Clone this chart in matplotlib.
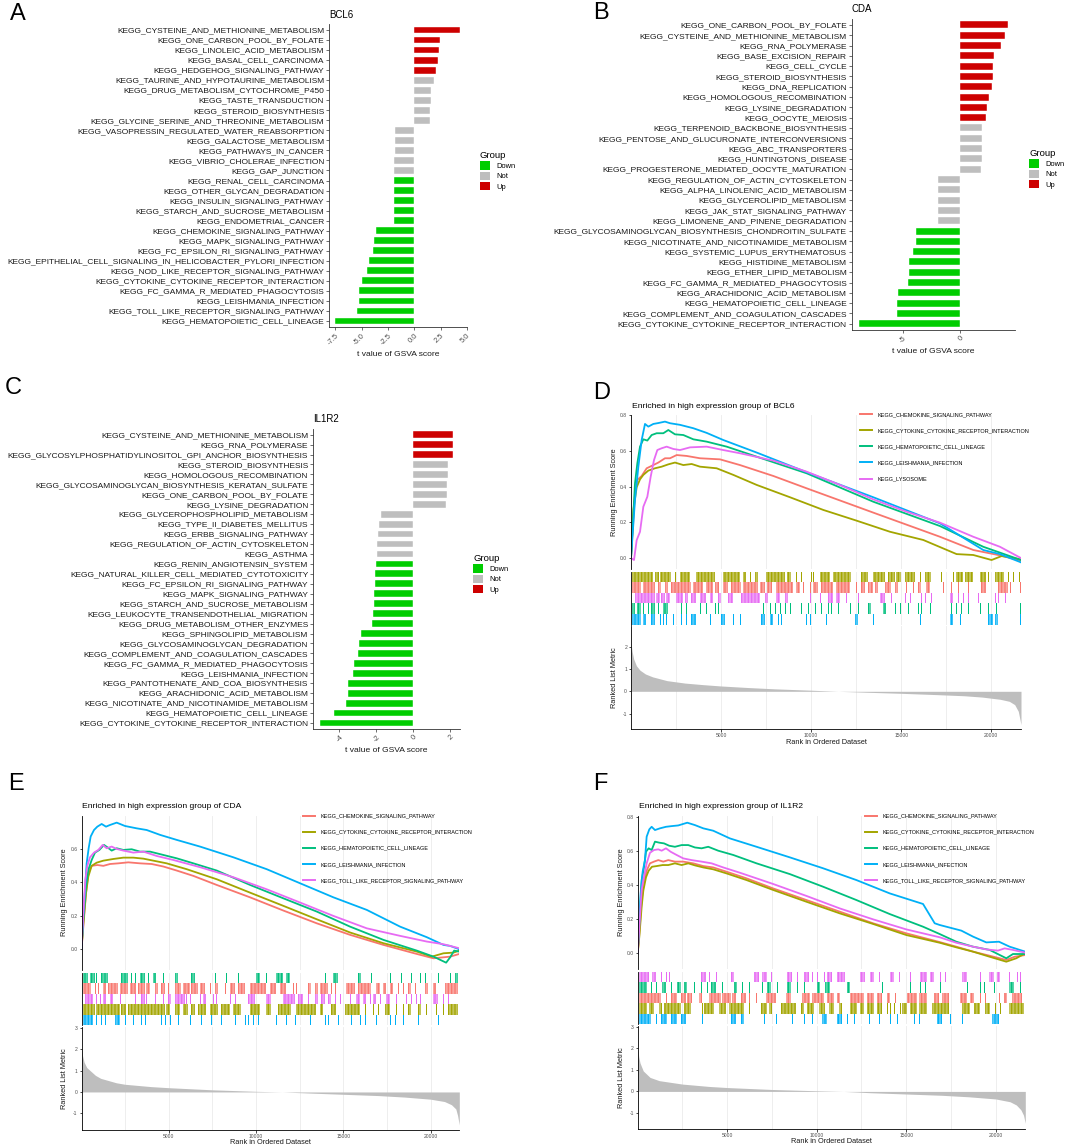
import numpy as np
import matplotlib
matplotlib.use("Agg")
import matplotlib.pyplot as plt
from matplotlib.patches import Patch
from matplotlib.lines import Line2D
from matplotlib.colors import to_rgba

plt.rcParams['font.family'] = ['Liberation Sans', 'DejaVu Sans']
plt.rcParams['hatch.linewidth'] = 0.9

# ---------------- GSVA bar data ----------------
a_names = ["KEGG_CYSTEINE_AND_METHIONINE_METABOLISM", "KEGG_ONE_CARBON_POOL_BY_FOLATE",
           "KEGG_LINOLEIC_ACID_METABOLISM", "KEGG_BASAL_CELL_CARCINOMA",
           "KEGG_HEDGEHOG_SIGNALING_PATHWAY", "KEGG_TAURINE_AND_HYPOTAURINE_METABOLISM",
           "KEGG_DRUG_METABOLISM_CYTOCHROME_P450", "KEGG_TASTE_TRANSDUCTION",
           "KEGG_STEROID_BIOSYNTHESIS", "KEGG_GLYCINE_SERINE_AND_THREONINE_METABOLISM",
           "KEGG_VASOPRESSIN_REGULATED_WATER_REABSORPTION", "KEGG_GALACTOSE_METABOLISM",
           "KEGG_PATHWAYS_IN_CANCER", "KEGG_VIBRIO_CHOLERAE_INFECTION", "KEGG_GAP_JUNCTION",
           "KEGG_RENAL_CELL_CARCINOMA", "KEGG_OTHER_GLYCAN_DEGRADATION",
           "KEGG_INSULIN_SIGNALING_PATHWAY", "KEGG_STARCH_AND_SUCROSE_METABOLISM",
           "KEGG_ENDOMETRIAL_CANCER", "KEGG_CHEMOKINE_SIGNALING_PATHWAY",
           "KEGG_MAPK_SIGNALING_PATHWAY", "KEGG_FC_EPSILON_RI_SIGNALING_PATHWAY",
           "KEGG_EPITHELIAL_CELL_SIGNALING_IN_HELICOBACTER_PYLORI_INFECTION",
           "KEGG_NOD_LIKE_RECEPTOR_SIGNALING_PATHWAY", "KEGG_CYTOKINE_CYTOKINE_RECEPTOR_INTERACTION",
           "KEGG_FC_GAMMA_R_MEDIATED_PHAGOCYTOSIS", "KEGG_LEISHMANIA_INFECTION",
           "KEGG_TOLL_LIKE_RECEPTOR_SIGNALING_PATHWAY", "KEGG_HEMATOPOIETIC_CELL_LINEAGE"]
a_vals = [4.36, 2.40, 2.31, 2.21, 2.02, 1.89, 1.57, 1.54, 1.47, 1.47,
          -1.86, -1.86, -1.86, -1.89, -1.89, -1.96, -1.96, -1.96, -1.96, -1.96,
          -3.62, -3.85, -3.88, -4.33, -4.52, -4.94, -5.22, -5.29, -5.42, -7.50]
a_groups = ["Up"] * 5 + ["Not"] * 10 + ["Down"] * 15
a_ticks = [-7.5, -5.0, -2.5, 0.0, 2.5, 5.0]

b_names = ["KEGG_ONE_CARBON_POOL_BY_FOLATE", "KEGG_CYSTEINE_AND_METHIONINE_METABOLISM",
           "KEGG_RNA_POLYMERASE", "KEGG_BASE_EXCISION_REPAIR", "KEGG_CELL_CYCLE",
           "KEGG_STEROID_BIOSYNTHESIS", "KEGG_DNA_REPLICATION", "KEGG_HOMOLOGOUS_RECOMBINATION",
           "KEGG_LYSINE_DEGRADATION", "KEGG_OOCYTE_MEIOSIS", "KEGG_TERPENOID_BACKBONE_BIOSYNTHESIS",
           "KEGG_PENTOSE_AND_GLUCURONATE_INTERCONVERSIONS", "KEGG_ABC_TRANSPORTERS",
           "KEGG_HUNTINGTONS_DISEASE", "KEGG_PROGESTERONE_MEDIATED_OOCYTE_MATURATION",
           "KEGG_REGULATION_OF_ACTIN_CYTOSKELETON", "KEGG_ALPHA_LINOLENIC_ACID_METABOLISM",
           "KEGG_GLYCEROLIPID_METABOLISM", "KEGG_JAK_STAT_SIGNALING_PATHWAY",
           "KEGG_LIMONENE_AND_PINENE_DEGRADATION",
           "KEGG_GLYCOSAMINOGLYCAN_BIOSYNTHESIS_CHONDROITIN_SULFATE",
           "KEGG_NICOTINATE_AND_NICOTINAMIDE_METABOLISM", "KEGG_SYSTEMIC_LUPUS_ERYTHEMATOSUS",
           "KEGG_HISTIDINE_METABOLISM", "KEGG_ETHER_LIPID_METABOLISM",
           "KEGG_FC_GAMMA_R_MEDIATED_PHAGOCYTOSIS", "KEGG_ARACHIDONIC_ACID_METABOLISM",
           "KEGG_HEMATOPOIETIC_CELL_LINEAGE", "KEGG_COMPLEMENT_AND_COAGULATION_CASCADES",
           "KEGG_CYTOKINE_CYTOKINE_RECEPTOR_INTERACTION"]
b_vals = [4.10, 3.84, 3.50, 2.89, 2.86, 2.80, 2.75, 2.51, 2.31, 2.23,
          1.91, 1.91, 1.88, 1.85, 1.82, -1.91, -1.91, -1.97, -1.97, -1.97,
          -3.82, -3.87, -4.05, -4.42, -4.48, -4.51, -5.35, -5.46, -5.49, -8.76]
b_groups = ["Up"] * 10 + ["Not"] * 10 + ["Down"] * 10
b_ticks = [-5, 0]

c_names = ["KEGG_CYSTEINE_AND_METHIONINE_METABOLISM", "KEGG_RNA_POLYMERASE",
           "KEGG_GLYCOSYLPHOSPHATIDYLINOSITOL_GPI_ANCHOR_BIOSYNTHESIS", "KEGG_STEROID_BIOSYNTHESIS",
           "KEGG_HOMOLOGOUS_RECOMBINATION", "KEGG_GLYCOSAMINOGLYCAN_BIOSYNTHESIS_KERATAN_SULFATE",
           "KEGG_ONE_CARBON_POOL_BY_FOLATE", "KEGG_LYSINE_DEGRADATION",
           "KEGG_GLYCEROPHOSPHOLIPID_METABOLISM", "KEGG_TYPE_II_DIABETES_MELLITUS",
           "KEGG_ERBB_SIGNALING_PATHWAY", "KEGG_REGULATION_OF_ACTIN_CYTOSKELETON", "KEGG_ASTHMA",
           "KEGG_RENIN_ANGIOTENSIN_SYSTEM", "KEGG_NATURAL_KILLER_CELL_MEDIATED_CYTOTOXICITY",
           "KEGG_FC_EPSILON_RI_SIGNALING_PATHWAY", "KEGG_MAPK_SIGNALING_PATHWAY",
           "KEGG_STARCH_AND_SUCROSE_METABOLISM", "KEGG_LEUKOCYTE_TRANSENDOTHELIAL_MIGRATION",
           "KEGG_DRUG_METABOLISM_OTHER_ENZYMES", "KEGG_SPHINGOLIPID_METABOLISM",
           "KEGG_GLYCOSAMINOGLYCAN_DEGRADATION", "KEGG_COMPLEMENT_AND_COAGULATION_CASCADES",
           "KEGG_FC_GAMMA_R_MEDIATED_PHAGOCYTOSIS", "KEGG_LEISHMANIA_INFECTION",
           "KEGG_PANTOTHENATE_AND_COA_BIOSYNTHESIS", "KEGG_ARACHIDONIC_ACID_METABOLISM",
           "KEGG_NICOTINATE_AND_NICOTINAMIDE_METABOLISM", "KEGG_HEMATOPOIETIC_CELL_LINEAGE",
           "KEGG_CYTOKINE_CYTOKINE_RECEPTOR_INTERACTION"]
c_vals = [2.16, 2.16, 2.13, 1.87, 1.85, 1.84, 1.84, 1.76,
          -1.75, -1.87, -1.89, -1.95, -1.96,
          -2.00, -2.07, -2.07, -2.15, -2.15, -2.18, -2.22, -2.84, -2.93, -3.02,
          -3.24, -3.29, -3.53, -3.53, -3.67, -4.31, -5.07]
c_groups = ["Up"] * 3 + ["Not"] * 10 + ["Down"] * 17
c_ticks = [-4, -2, 0, 2]

group_levels = ["Down", "Not", "Up"]

# ---------------- GSEA data ----------------
n_genes = 21650
gsea_x_ticks = [5000, 10000, 15000, 20000]

# running enrichment score, (rank, score)
d_chemokine = [(0, 0), (130, 0.213), (222, 0.362), (352, 0.437), (592, 0.459), (870, 0.502),
               (1240, 0.52), (1517, 0.534), (1887, 0.558), (2165, 0.558), (2535, 0.576),
               (3090, 0.571), (3830, 0.558), (4940, 0.552), (6050, 0.52), (7900, 0.459),
               (9750, 0.39), (13450, 0.254), (17150, 0.119), (19000, 0.045), (20480, 0.015),
               (21645, -0.015)]
d_cytokine = [(0, 0), (130, 0.269), (315, 0.396), (500, 0.44), (685, 0.465), (962, 0.489),
              (1332, 0.502), (1702, 0.511), (2072, 0.524), (2442, 0.534), (2905, 0.52),
              (3367, 0.526), (3830, 0.511), (4755, 0.502), (5680, 0.465), (6975, 0.409),
              (8825, 0.34), (10675, 0.269), (12525, 0.209), (14375, 0.147), (16225, 0.101),
              (18075, 0.022), (19000, 0.017), (20017, -0.011), (20572, 0.011), (21645, -0.007)]
d_hemato = [(0, 0), (222, 0.418), (352, 0.53), (500, 0.623), (685, 0.664), (907, 0.657),
            (1147, 0.688), (1425, 0.698), (1795, 0.698), (2072, 0.716), (2442, 0.692),
            (2905, 0.688), (3460, 0.664), (4200, 0.651), (5310, 0.623), (6975, 0.567),
            (9750, 0.474), (13450, 0.315), (17150, 0.179), (19555, 0.063), (21645, -0.011)]
d_leish = [(0, 0), (222, 0.325), (407, 0.51), (592, 0.66), (777, 0.75), (962, 0.735),
           (1240, 0.75), (1517, 0.755), (1887, 0.763), (2165, 0.754), (2720, 0.745),
           (3460, 0.726), (4200, 0.70), (5125, 0.66), (6975, 0.59), (9750, 0.48),
           (13450, 0.34), (17150, 0.194), (19555, 0.045), (20480, 0.022), (21645, -0.024)]
d_lysosome = [(0, 0), (167, -0.011), (315, 0.1), (500, 0.147), (685, 0.287), (907, 0.343),
              (1092, 0.455), (1277, 0.548), (1462, 0.604), (1702, 0.614), (1980, 0.623),
              (2350, 0.61), (2720, 0.604), (3275, 0.619), (4200, 0.623), (5125, 0.604),
              (6050, 0.586), (7900, 0.545), (9750, 0.483), (11600, 0.409), (13450, 0.328),
              (15300, 0.259), (17150, 0.198), (19000, 0.119), (20480, 0.063), (21645, 0)]

e_chemokine = [(0, 0), (105, 0.135), (257, 0.334), (391, 0.458), (582, 0.498), (907, 0.503),
               (1251, 0.498), (1633, 0.509), (2111, 0.513), (2684, 0.519), (3353, 0.513),
               (4022, 0.509), (4691, 0.494), (5455, 0.47), (6411, 0.438), (7749, 0.384),
               (9660, 0.31), (11571, 0.231), (13482, 0.155), (15393, 0.086), (17304, 0.026),
               (19215, -0.028), (20170, -0.054), (21126, -0.044), (21650, -0.028)]
e_cytokine = [(0, 0), (105, 0.155), (257, 0.334), (391, 0.434), (582, 0.498), (869, 0.517),
              (1251, 0.529), (1824, 0.539), (2398, 0.547), (2971, 0.547), (3544, 0.541),
              (4118, 0.529), (4882, 0.513), (6029, 0.478), (7749, 0.418), (9660, 0.338),
              (11571, 0.259), (13482, 0.179), (15393, 0.1), (17304, 0.036), (19215, -0.014),
              (20075, -0.044), (20743, -0.024), (21316, -0.02), (21650, -0.008)]
e_hemato = [(0, 0), (105, 0.175), (257, 0.374), (391, 0.474), (582, 0.533), (773, 0.577),
            (1022, 0.593), (1289, 0.623), (1480, 0.609), (1729, 0.589), (2016, 0.603),
            (2398, 0.593), (2876, 0.597), (3353, 0.583), (3927, 0.583), (4691, 0.563),
            (5455, 0.543), (6411, 0.513), (7749, 0.47), (9660, 0.384), (11571, 0.304),
            (13482, 0.225), (15393, 0.135), (17304, 0.056), (19215, -0.008), (20170, -0.044),
            (20896, -0.08), (21126, -0.048), (21355, -0.008), (21650, -0.014)]
e_leish = [(0, 0), (105, 0.215), (200, 0.354), (296, 0.513), (410, 0.603), (525, 0.673),
           (716, 0.712), (907, 0.732), (1156, 0.748), (1404, 0.732), (1633, 0.742),
           (2016, 0.756), (2493, 0.736), (3162, 0.722), (3735, 0.712), (4500, 0.683),
           (5455, 0.653), (6793, 0.613), (8704, 0.549), (10615, 0.478), (12526, 0.394),
           (14437, 0.31), (16348, 0.235), (18259, 0.135), (19788, 0.072), (20743, 0.026),
           (21126, 0.02), (21650, 0)]
e_toll = [(0, 0), (105, 0.215), (219, 0.414), (334, 0.498), (487, 0.549), (716, 0.577),
          (964, 0.593), (1213, 0.623), (1442, 0.603), (1729, 0.613), (2016, 0.599),
          (2398, 0.589), (2971, 0.577), (3544, 0.583), (4309, 0.557), (5264, 0.533),
          (6793, 0.49), (8704, 0.43), (10615, 0.358), (12526, 0.279), (14437, 0.199),
          (16348, 0.125), (18259, 0.08), (19788, 0.046), (20743, 0.03), (21650, 0.006)]

f_chemokine = [(0, 0), (91, 0.117), (221, 0.312), (351, 0.42), (500, 0.484), (686, 0.527),
               (909, 0.537), (1151, 0.546), (1430, 0.537), (1709, 0.546), (2081, 0.537),
               (2546, 0.537), (3104, 0.527), (3662, 0.511), (4220, 0.503), (4964, 0.478),
               (6080, 0.439), (7568, 0.38), (9428, 0.312), (11288, 0.244), (13148, 0.176),
               (15008, 0.117), (16868, 0.066), (17798, 0.039), (18728, 0.01), (19658, -0.014),
               (20588, -0.039), (21053, -0.02), (21640, -0.01)]
f_cytokine = [(0, 0), (91, 0.098), (221, 0.273), (314, 0.367), (463, 0.445), (612, 0.484),
              (798, 0.507), (1058, 0.511), (1393, 0.517), (1709, 0.517), (2081, 0.527),
              (2453, 0.517), (2825, 0.527), (3197, 0.515), (3662, 0.503), (4220, 0.492),
              (4964, 0.468), (6080, 0.429), (7568, 0.371), (9428, 0.302), (11288, 0.234),
              (13148, 0.172), (15008, 0.107), (16868, 0.062), (17798, 0.035), (18728, 0.01),
              (19658, -0.02), (20588, -0.049), (21146, -0.029), (21640, 0)]
f_hemato = [(0, 0), (91, 0.176), (221, 0.429), (351, 0.503), (463, 0.595), (612, 0.615),
            (779, 0.605), (965, 0.654), (1207, 0.648), (1467, 0.644), (1765, 0.63),
            (2081, 0.624), (2453, 0.634), (2825, 0.634), (3197, 0.62), (3569, 0.615),
            (3941, 0.624), (4499, 0.601), (5336, 0.576), (6638, 0.527), (8498, 0.464),
            (10358, 0.39), (12218, 0.312), (14078, 0.23), (15938, 0.156), (16868, 0.113),
            (17798, 0.068), (18728, 0.039), (19658, 0.02), (20588, -0.029), (20960, -0.004),
            (21640, -0.004)]
f_leish = [(0, 0), (91, 0.195), (165, 0.351), (277, 0.478), (407, 0.546), (500, 0.683),
           (649, 0.726), (779, 0.741), (965, 0.722), (1244, 0.732), (1579, 0.741),
           (1895, 0.745), (2267, 0.749), (2769, 0.765), (3197, 0.751), (3662, 0.732),
           (4220, 0.718), (5150, 0.673), (6638, 0.624), (8498, 0.562), (10358, 0.498),
           (12218, 0.429), (14078, 0.351), (15938, 0.289), (16589, 0.176), (16868, 0.166),
           (18077, 0.133), (18728, 0.098), (19472, 0.064), (20179, 0.068), (20774, 0.039),
           (21640, 0.01)]
f_toll = [(0, 0), (91, 0.156), (221, 0.371), (351, 0.449), (500, 0.527), (686, 0.589),
          (909, 0.605), (1151, 0.609), (1337, 0.601), (1579, 0.615), (1839, 0.595),
          (2174, 0.576), (2546, 0.556), (3011, 0.546), (3569, 0.537), (4127, 0.527),
          (4778, 0.503), (5708, 0.472), (7568, 0.406), (9428, 0.336), (11288, 0.263),
          (13148, 0.199), (15008, 0.14), (16868, 0.094), (17798, 0.062), (18728, 0.039),
          (19472, 0.023), (20123, 0.016), (20495, 0.029), (20960, 0.02), (21640, 0.004)]

# ranked list metric, (rank, value)
d_metric = [(0, 2.2), (60, 1.8), (150, 1.45), (300, 1.15), (500, 0.95), (800, 0.78), (1200, 0.65),
            (2000, 0.48), (3000, 0.37), (4000, 0.3), (5000, 0.24), (6500, 0.17), (8000, 0.11),
            (10000, 0.05), (11500, 0.0), (13000, -0.04), (15000, -0.09), (17000, -0.15),
            (18500, -0.2), (19500, -0.26), (20500, -0.36), (21000, -0.45), (21300, -0.6),
            (21500, -0.9), (21650, -1.5)]
e_metric = [(0, 2.05), (60, 1.7), (150, 1.4), (300, 1.15), (500, 1.0), (800, 0.78), (1100, 0.64),
            (2000, 0.43), (2500, 0.36), (4000, 0.25), (5000, 0.2), (7500, 0.1), (10000, 0.03),
            (11500, 0.0), (13000, -0.05), (15000, -0.11), (17000, -0.17), (18500, -0.24),
            (20000, -0.34), (20800, -0.45), (21200, -0.6), (21450, -0.8), (21550, -1.1),
            (21650, -1.55)]
f_metric = [(0, 2.0), (60, 1.6), (130, 1.32), (310, 0.95), (690, 0.65), (1200, 0.5), (2500, 0.34),
            (4000, 0.23), (5000, 0.18), (7500, 0.09), (10000, 0.03), (11500, 0.0),
            (13000, -0.06), (15000, -0.12), (17000, -0.18), (18500, -0.25), (20000, -0.35),
            (20800, -0.48), (21150, -0.63), (21400, -0.85), (21550, -1.1), (21650, -1.48)]

# gene set hits, (first rank, last rank) of each tick or cluster of ticks
d_rug_cytokine = [(56, 1222), (1314, 1536), (1592, 2239), (2424, 2424), (2702, 3257), (3627, 4681),
                  (5107, 6032), (6217, 6402), (6587, 6679), (6864, 7049), (7512, 8529), (8677, 8899),
                  (9177, 9177), (9454, 9454), (9972, 9972), (10102, 10194), (10472, 11027),
                  (11212, 12229), (12784, 13154), (13432, 14079), (14264, 14634), (14727, 15004),
                  (15189, 15744), (16021, 16114), (16336, 16669), (17224, 17224), (17872, 17872),
                  (18057, 18427), (18556, 18982), (19352, 19722), (19814, 19906), (20184, 20702),
                  (20924, 20924), (21202, 21202), (21560, 21560)]
d_rug_chemokine = [(56, 574), (667, 1314), (1499, 1684), (1869, 2054), (2239, 3349), (3442, 3997),
                   (4182, 4552), (4681, 4866), (5107, 5384), (5569, 6124), (6217, 7049), (7142, 7419),
                   (7567, 7826), (8066, 8992), (9177, 9362), (9547, 9547), (9917, 9917),
                   (10102, 10379), (10527, 11212), (11397, 12137), (12506, 12506), (12784, 12969),
                   (13154, 13432), (13524, 13709), (14079, 14449), (14634, 14819), (15282, 15282),
                   (15652, 15652), (15929, 16114), (16392, 16577), (17317, 17409), (17779, 17779),
                   (18149, 18149), (18704, 18704), (19444, 19722), (20369, 20924), (21017, 21109),
                   (21572, 21572)]
d_rug_lysosome = [(204, 1314), (1407, 1592), (1684, 1869), (1962, 2147), (2517, 2887), (2979, 3164),
                  (3349, 3627), (3812, 4182), (4367, 4552), (4829, 5014), (5384, 5662), (6124, 7142),
                  (7419, 7604), (8066, 8252), (8529, 8714), (9917, 9917), (10472, 10564),
                  (10934, 11212), (11397, 11582), (11952, 12044), (12599, 12599), (13802, 14079),
                  (14449, 14449), (15189, 15189), (15467, 15467), (16114, 16207), (16299, 16299),
                  (16669, 16669), (17687, 17872), (18149, 18149), (18427, 18427), (18704, 18704),
                  (19259, 19259), (20184, 20184), (20369, 20369), (20739, 20739)]
d_rug_hemato = [(56, 204), (352, 574), (667, 759), (944, 944), (1092, 1314), (1499, 1592),
                (1777, 2054), (2794, 2794), (3072, 3072), (3812, 3812), (4182, 4274), (4644, 4644),
                (4829, 4829), (7327, 7327), (7697, 7789), (7974, 7974), (8252, 8252), (8529, 8622),
                (8807, 8807), (9454, 9454), (9824, 9824), (10194, 10287), (10564, 10657),
                (10934, 10934), (11119, 11119), (11489, 11489), (12137, 12137), (12599, 12599),
                (13154, 13339), (13987, 14172), (14634, 14634), (14912, 14912), (15374, 15374),
                (15929, 15929), (16114, 16114), (16577, 16577), (17779, 17872), (18057, 18057),
                (18334, 18334), (18704, 18704), (19352, 19352), (19814, 19814), (20277, 20277),
                (21572, 21572)]
d_rug_leish = [(56, 574), (667, 852), (1129, 1314), (1592, 1684), (1777, 1869), (1962, 2054),
               (2332, 2332), (2794, 2887), (3072, 3072), (3349, 3627), (4367, 4367), (5014, 5199),
               (5662, 5754), (6032, 6032), (7234, 7419), (7697, 7882), (8159, 8159), (8344, 8344),
               (9732, 9732), (9917, 10009), (10842, 10842), (12414, 12599), (13432, 13432),
               (16021, 16021), (17687, 17872), (18242, 18242), (19814, 20092), (20184, 20369),
               (21572, 21572)]

e_rug_hemato = [(87, 373), (469, 755), (851, 851), (1138, 1520), (2284, 2667), (2858, 2858),
                (3049, 3049), (3335, 3622), (3813, 3813), (4100, 4291), (4673, 4673), (5342, 5533),
                (6297, 6488), (7635, 7635), (8304, 8304), (8973, 8973), (10024, 10215),
                (10597, 10597), (11170, 11553), (11744, 11935), (13941, 13941), (14419, 14706),
                (15852, 16043), (16617, 16712), (17668, 17668), (18337, 18337), (18910, 18910),
                (19388, 19388), (19674, 19674), (20439, 20439), (21108, 21203), (21394, 21585)]
e_rug_chemokine = [(87, 564), (756, 851), (947, 1042), (1233, 1424), (1520, 2093), (2189, 2667),
                   (2762, 3144), (3240, 3622), (3718, 3909), (4195, 4386), (4578, 4769), (4960, 5055),
                   (5342, 5724), (5820, 6202), (6297, 6680), (6775, 7062), (7348, 7444), (7635, 7826),
                   (8208, 8208), (8495, 8782), (8973, 9355), (9642, 10597), (10788, 11170),
                   (11362, 11744), (12126, 12126), (12317, 12317), (12986, 13177), (13368, 13559),
                   (13655, 14133), (14324, 14324), (14515, 14515), (15184, 15661), (15852, 16617),
                   (16903, 17095), (17286, 17477), (17668, 17859), (18146, 18146), (18432, 18432),
                   (18719, 18910), (19101, 19101), (19674, 19866), (20152, 20343), (20821, 21585)]
e_rug_toll = [(182, 660), (851, 851), (1042, 1042), (1233, 1424), (1615, 1807), (2189, 2284),
              (3049, 3144), (3431, 3622), (3718, 3718), (4195, 4195), (4673, 4673), (4960, 5151),
              (5342, 5915), (6011, 6011), (6202, 6202), (6775, 6775), (6966, 7157), (7540, 7540),
              (7731, 7731), (8495, 8495), (8782, 8782), (9546, 9928), (10597, 10884),
              (11553, 12222), (12413, 12699), (12986, 12986), (13368, 13559), (13750, 13941),
              (14133, 14324), (14515, 14515), (14801, 14801), (15375, 15375), (15757, 15948),
              (16139, 16330), (16521, 16521), (16712, 16903), (17095, 17095), (17477, 17668),
              (18050, 18050), (18623, 18623), (18910, 18910), (19197, 19197), (19388, 19388),
              (20152, 20439), (20725, 20725), (21012, 21012), (21490, 21490)]
e_rug_cytokine = [(87, 755), (851, 2189), (2284, 2571), (2667, 4769), (4864, 5055), (5342, 5629),
                  (5820, 6106), (6297, 6488), (6680, 7157), (7348, 7826), (8017, 8495), (8686, 9164),
                  (9642, 10215), (10597, 10884), (11266, 12030), (12317, 13464), (13655, 13846),
                  (14324, 14610), (15088, 15948), (16235, 16235), (16712, 16712), (16999, 17095),
                  (17381, 17668), (18050, 18050), (18432, 18432), (18719, 18910), (19292, 19483),
                  (19770, 19770), (20343, 20343), (20725, 20725), (21012, 21585)]
e_rug_leish = [(87, 660), (851, 947), (1138, 1138), (1329, 1329), (1902, 2189), (2475, 2475),
               (2953, 2953), (3431, 3431), (3622, 3622), (4578, 4578), (4769, 4769), (5055, 5055),
               (5533, 5533), (6202, 6202), (6871, 6871), (7444, 7540), (8017, 8017), (8782, 8782),
               (9355, 9355), (9546, 9546), (9833, 9833), (10119, 10119), (11170, 11170),
               (11744, 11744), (12222, 12222), (13082, 13177), (13941, 13941), (14133, 14133),
               (14706, 14706), (15470, 15470), (15948, 15948), (16235, 16235), (16903, 16903),
               (17668, 17668), (17955, 17955), (18432, 18432), (19292, 19292), (20439, 20439)]

f_rug_toll = [(73, 631), (817, 1003), (1282, 1282), (1561, 1561), (1747, 1747), (3514, 3793),
              (3979, 3979), (4351, 4351), (5188, 5374), (6490, 6769), (6955, 7234), (7420, 7420),
              (8350, 8629), (8908, 8908), (9280, 9559), (9745, 9745), (10024, 10024),
              (10396, 10396), (10582, 10861), (11140, 11605), (12442, 12721), (13000, 13186),
              (13465, 13558), (14116, 14302), (14581, 14581), (15232, 15232), (15790, 16162),
              (16348, 16534), (16906, 16906), (17185, 17185), (18115, 18394), (19138, 19138),
              (19603, 19882), (20068, 20254), (20719, 20719), (21184, 21184), (21370, 21370)]
f_rug_hemato = [(73, 538), (724, 817), (1003, 1003), (1375, 1561), (1840, 1840), (2212, 2398),
                (2584, 2770), (3142, 3142), (3514, 3514), (3886, 3886), (4072, 4351), (4723, 4723),
                (5374, 5560), (5839, 5839), (6211, 6211), (6955, 6955), (7234, 7420), (7792, 7792),
                (8350, 8536), (8908, 8908), (9280, 9280), (10024, 10210), (10489, 10768),
                (11698, 11884), (13651, 13651), (15232, 15232), (15790, 15790), (16069, 16069),
                (16906, 16999), (18394, 18394), (19138, 19138), (19324, 19324), (19882, 19882),
                (20719, 20998), (21370, 21370)]
f_rug_chemokine = [(73, 1282), (1561, 1654), (1840, 2212), (2398, 2677), (2770, 3049), (3421, 3607),
                   (3979, 4630), (4723, 5188), (5281, 5467), (5746, 6025), (6211, 6304), (6583, 6676),
                   (7141, 7699), (8257, 8536), (9187, 9652), (9745, 10396), (10582, 10954),
                   (11140, 11326), (11884, 12628), (12814, 13186), (13372, 13651), (13930, 14116),
                   (14395, 14395), (15046, 15604), (15697, 16162), (16534, 16813), (16999, 17371),
                   (18022, 18394), (18580, 18766), (19138, 19138), (19417, 19417), (20161, 20161),
                   (20440, 20626), (20905, 21463)]
f_rug_cytokine = [(73, 538), (631, 910), (1189, 1375), (1468, 2398), (2584, 2956), (3607, 3607),
                  (3700, 4258), (4537, 4909), (5095, 5932), (6211, 6304), (6862, 7234), (7327, 7513),
                  (7978, 8815), (9094, 9280), (9466, 9838), (10117, 10489), (10675, 10954),
                  (11233, 11419), (11884, 12256), (12442, 12628), (12814, 13186), (13372, 13651),
                  (13930, 13930), (14116, 14116), (14302, 14302), (14674, 14674), (14767, 15046),
                  (15232, 15604), (15697, 16162), (16441, 17371), (18115, 18580), (18766, 19138),
                  (19417, 19696), (19975, 19975), (20254, 20254), (20719, 21600)]
f_rug_leish = [(73, 724), (1003, 1096), (1282, 1654), (1840, 2212), (2398, 2677), (3607, 3607),
               (5188, 5467), (5746, 5932), (7048, 7141), (7699, 7699), (8629, 8722), (9280, 9280),
               (9745, 9745), (10303, 10582), (11140, 11419), (11698, 11698), (12070, 12070),
               (12907, 12907), (13465, 13465), (14116, 14116), (14488, 14488), (15418, 15418),
               (15697, 15697), (16720, 16999), (17464, 17464), (18115, 18115), (19789, 20161)]

# ---------------- styling ----------------
W, H = 1065, 1147
GROUP_COL = {"Down": "#00CD00", "Not": "#BEBEBE", "Up": "#CD0000"}
C_CHEM, C_CYTO, C_HEMA, C_LEISH, C_MAG = "#F8766D", "#A3A500", "#00BF7D", "#00B0F6", "#E76BF3"
TXT = "#333333"

fig = plt.figure(figsize=(W / 100, H / 100), dpi=100)


def box(l, t, r, b):
    return [l / W, 1 - b / H, (r - l) / W, (b - t) / H]


def fy(y):
    return 1 - y / H


def bar_panel(rect, names, vals, groups, ticks, ticklabels, title, title_y, xlab_y, leg_xy):
    ax = fig.add_axes(box(*rect))
    y = np.arange(len(names))
    ax.barh(y, vals, height=0.68, color=[GROUP_COL[g] for g in groups],
            edgecolor="white", linewidth=0.3)
    lo, hi = min(vals), max(vals)
    pad = 0.05 * (hi - lo)
    ax.set_xlim(lo - pad, hi + pad)
    ax.set_ylim(len(names) - 0.4, -0.6)
    ax.set_yticks(y, names, fontsize=6.07, color="#1a1a1a")
    ax.set_xticks(ticks, ticklabels, fontsize=5.4, rotation=45, ha="right",
                  rotation_mode="anchor", color="#4d4d4d")
    ax.tick_params(length=2, width=0.5, pad=1.5, color=TXT)
    for s in ["top", "right"]:
        ax.spines[s].set_visible(False)
    for s in ["left", "bottom"]:
        ax.spines[s].set_linewidth(0.6)
        ax.spines[s].set_color(TXT)
    ax.set_xlabel("t value of GSVA score", fontsize=6.1, color="#1a1a1a")
    ax.xaxis.set_label_coords((rect[0] + rect[2]) / 2 / W, fy(xlab_y), transform=fig.transFigure)
    ax.xaxis.label.set_va("center")
    fig.text(rect[0] / W, fy(title_y), title, fontsize=7, va="center", ha="left")
    handles = [Patch(facecolor=GROUP_COL[g], edgecolor="none") for g in group_levels]
    ax.legend(handles, group_levels, title="Group", loc="upper left",
              bbox_to_anchor=(leg_xy[0] / W, fy(leg_xy[1])), bbox_transform=fig.transFigure,
              frameon=False, fontsize=5.4, title_fontsize=6.8, handlelength=1.35,
              handleheight=1.35, labelspacing=0.2, handletextpad=0.8, borderpad=0,
              borderaxespad=0, alignment="left")
    return ax


def curve_xy(pts):
    return [p[0] for p in pts], [p[1] for p in pts]


def gsea_panel(l, r, top, rug_box, bot, ylim_top, ylim_bot, curves, rugs, metric, title, title_y,
               leg_xy, xlab_y, ylab_x):
    # running score
    ax1 = fig.add_axes(box(l, top[0], r, top[1]))
    for pts, col, lab in curves:
        xs, ys = curve_xy(pts)
        ax1.plot(xs, ys, color=col, lw=1.3, label=lab, solid_joinstyle="round")
    ax1.set_xlim(0, n_genes)
    ax1.set_ylim(*ylim_top)
    yt = [v for v in [0.0, 0.2, 0.4, 0.6, 0.8] if ylim_top[0] <= v <= ylim_top[1] + 1e-3]
    ax1.set_yticks(yt, ["%.1f" % v for v in yt])
    ax1.set_ylabel("Running Enrichment Score", fontsize=5.3, color="#1a1a1a")
    ax1.yaxis.set_label_coords(ylab_x / W, fy((top[0] + top[1]) / 2), transform=fig.transFigure)
    ax1.yaxis.label.set_va("center")
    fig.text(l / W + 0.0008, fy(title_y), title, fontsize=6.1, va="center", ha="left")
    handles = [Line2D([], [], color=c, lw=1.4) for _, c, _ in curves]
    ax1.legend(handles, [lab for _, _, lab in curves], loc="upper left",
               bbox_to_anchor=(leg_xy[0] / W, fy(leg_xy[1])), bbox_transform=fig.transFigure,
               frameon=False, fontsize=4.0, handlelength=2.2, handletextpad=0.9,
               labelspacing=2.0, borderpad=0, borderaxespad=0)

    # hits: single ticks solid, dense clusters striped
    ax2 = fig.add_axes(box(l, rug_box[0], r, rug_box[1]))
    n = len(rugs)
    for i, (spans, col) in enumerate(rugs):
        singles = [(s, 55) for s, e in spans if e - s < 100]
        blocks = [(s, e - s) for s, e in spans if e - s >= 100]
        ax2.broken_barh(singles, (n - 1 - i, 1), facecolors=col, linewidth=0)
        ax2.broken_barh(blocks, (n - 1 - i, 1), facecolors=to_rgba(col, 0.65),
                        edgecolors=col, hatch="|||||", linewidth=0)
    ax2.set_xlim(0, n_genes)
    ax2.set_ylim(0, n)
    ax2.set_yticks([])

    # ranked metric
    ax3 = fig.add_axes(box(l, bot[0], r, bot[1]))
    xs, ys = curve_xy(metric)
    ax3.fill_between(xs, 0, ys, color="#BEBEBE", lw=0)
    ax3.set_xlim(0, n_genes)
    ax3.set_ylim(*ylim_bot)
    ytb = [v for v in [-1, 0, 1, 2, 3] if ylim_bot[0] <= v <= ylim_bot[1]]
    ax3.set_yticks(ytb, [str(v) for v in ytb])
    ax3.set_ylabel("Ranked List Metric", fontsize=5.3, color="#1a1a1a")
    ax3.yaxis.set_label_coords(ylab_x / W, fy((bot[0] + bot[1]) / 2), transform=fig.transFigure)
    ax3.yaxis.label.set_va("center")
    ax3.set_xlabel("Rank in Ordered Dataset", fontsize=5.3, color="#1a1a1a")
    ax3.xaxis.set_label_coords((l + r) / 2 / W, fy(xlab_y), transform=fig.transFigure)
    ax3.xaxis.label.set_va("center")

    for ax in (ax1, ax2, ax3):
        ax.set_xticks(gsea_x_ticks, [str(v) for v in gsea_x_ticks])
        ax.set_xticks([2500, 7500, 12500, 17500], minor=True)
        ax.grid(True, which="both", axis="x", color="#EBEBEB", lw=0.6)
        ax.set_axisbelow(True)
        ax.spines["top"].set_visible(False)
        ax.spines["right"].set_visible(False)
        ax.spines["left"].set_linewidth(0.6)
        ax.tick_params(labelsize=3.6, labelcolor="#4d4d4d", length=1.8, width=0.5, pad=1)
        ax.tick_params(which="minor", length=0)
    for ax in (ax1, ax2):
        ax.spines["bottom"].set_visible(False)
        ax.tick_params(axis="x", which="both", length=0, labelbottom=False)
    ax3.spines["bottom"].set_linewidth(0.6)
    ax2.tick_params(axis="y", length=0)


# ---------------- panels A-C ----------------
bar_panel((329, 24, 467, 327), a_names, a_vals, a_groups, a_ticks, ["%.1f" % t for t in a_ticks],
          "BCL6", 15, 355, (480, 151))
bar_panel((851.7, 18.8, 1015, 329.9), b_names, b_vals, b_groups, b_ticks, [str(t) for t in b_ticks],
          "CDA", 9, 351.7, (1029, 149))
bar_panel((313, 428.7, 460, 729), c_names, c_vals, c_groups, c_ticks, [str(t) for t in c_ticks],
          "IL1R2", 419, 750, (473, 554))

# ---------------- panels D-F ----------------
lab_chem = "KEGG_CHEMOKINE_SIGNALING_PATHWAY"
lab_cyto = "KEGG_CYTOKINE_CYTOKINE_RECEPTOR_INTERACTION"
lab_hema = "KEGG_HEMATOPOIETIC_CELL_LINEAGE"
lab_leish = "KEGG_LEISHMANIA_INFECTION"
lab_lyso = "KEGG_LYSOSOME"
lab_toll = "KEGG_TOLL_LIKE_RECEPTOR_SIGNALING_PATHWAY"

gsea_panel(631, 1021, (415, 569.3), (571.5, 624.5), (626, 729.3), (-0.063, 0.80), (-1.71, 2.94),
           [(d_chemokine, C_CHEM, lab_chem), (d_cytokine, C_CYTO, lab_cyto),
            (d_hemato, C_HEMA, lab_hema), (d_leish, C_LEISH, lab_leish),
            (d_lysosome, C_MAG, lab_lyso)],
           [(d_rug_cytokine, C_CYTO), (d_rug_chemokine, C_CHEM), (d_rug_lysosome, C_MAG),
            (d_rug_hemato, C_HEMA), (d_rug_leish, C_LEISH)],
           d_metric, "Enriched in high expression group of BCL6", 406, (860, 412), 742, 615)

gsea_panel(81.5, 459.3, (815.6, 969.7), (972.7, 1025), (1026.7, 1130), (-0.122, 0.798), (-1.79, 3.07),
           [(e_chemokine, C_CHEM, lab_chem), (e_cytokine, C_CYTO, lab_cyto),
            (e_hemato, C_HEMA, lab_hema), (e_leish, C_LEISH, lab_leish),
            (e_toll, C_MAG, lab_toll)],
           [(e_rug_hemato, C_HEMA), (e_rug_chemokine, C_CHEM), (e_rug_toll, C_MAG),
            (e_rug_cytokine, C_CYTO), (e_rug_leish, C_LEISH)],
           e_metric, "Enriched in high expression group of CDA", 807, (303, 813.5), 1142.5, 65)

gsea_panel(637.7, 1025.3, (815.7, 968.7), (971.7, 1024), (1025.7, 1128.7), (-0.09, 0.806), (-1.73, 3.05),
           [(f_chemokine, C_CHEM, lab_chem), (f_cytokine, C_CYTO, lab_cyto),
            (f_hemato, C_HEMA, lab_hema), (f_leish, C_LEISH, lab_leish),
            (f_toll, C_MAG, lab_toll)],
           [(f_rug_toll, C_MAG), (f_rug_hemato, C_HEMA), (f_rug_chemokine, C_CHEM),
            (f_rug_cytokine, C_CYTO), (f_rug_leish, C_LEISH)],
           f_metric, "Enriched in high expression group of IL1R2", 807, (865, 813.5), 1141.7, 621.7)

# panel letters
for letter, x, y in [("A", 10, 13.5), ("B", 593, 13), ("C", 5, 388), ("D", 593, 393),
                     ("E", 8, 783.5), ("F", 593, 784)]:
    fig.text(x / W, fy(y), letter, fontsize=17, va="center", ha="left")

fig.savefig("out.png", dpi=100)
